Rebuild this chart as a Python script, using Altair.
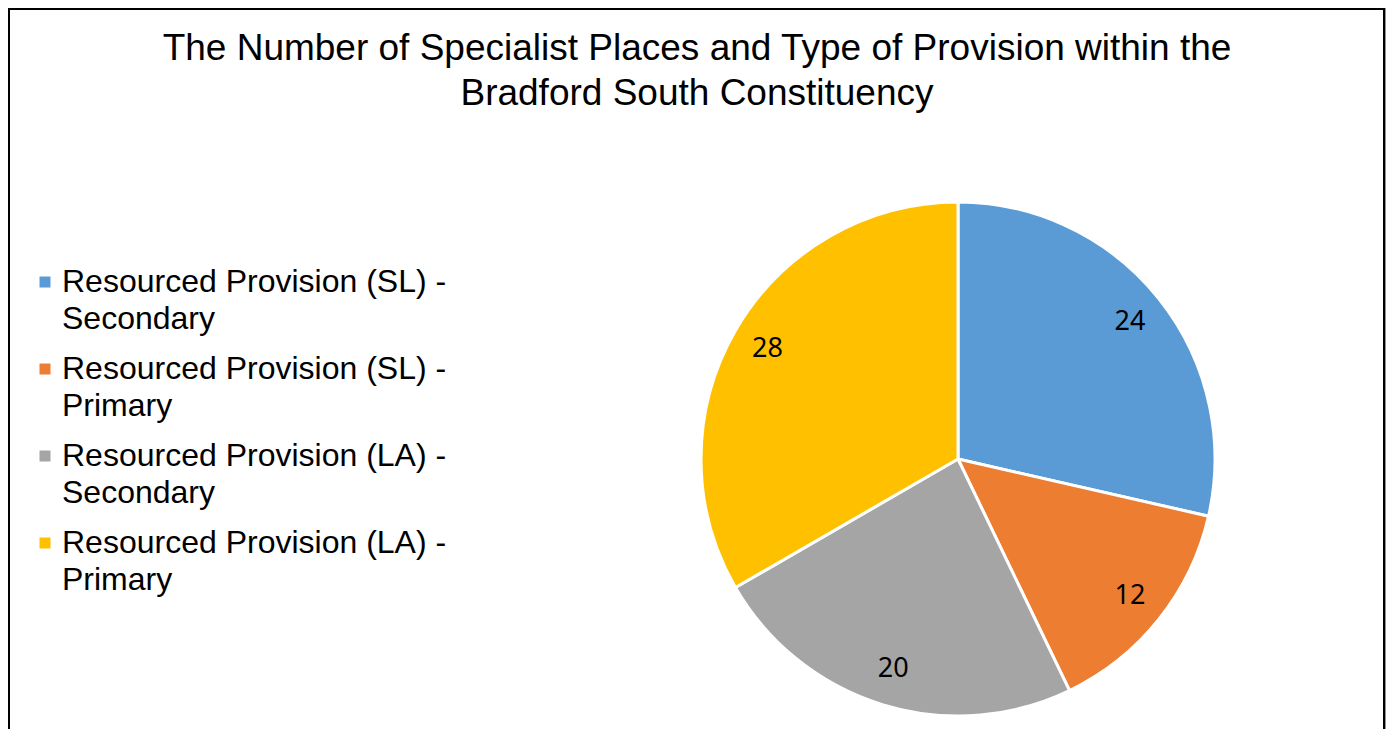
import altair as alt
import pandas as pd

categories = [
    "Resourced Provision (SL) - Secondary",
    "Resourced Provision (SL) - Primary",
    "Resourced Provision (LA) - Secondary",
    "Resourced Provision (LA) - Primary",
]
values = [24, 12, 20, 28]
colors = ["#5B9BD5", "#ED7D31", "#A5A5A5", "#FFC000"]
title_lines = [
    "The Number of Specialist Places and Type of Provision within the",
    "Bradford South Constituency",
]

df = pd.DataFrame({"category": categories, "value": values, "order": list(range(len(values)))})

W, H = 1378, 721
CX, CY, R = 950, 451, 257

base = alt.Chart(df).encode(
    theta=alt.Theta("value:Q", stack=True),
    order=alt.Order("order:Q", sort="ascending"),
)

pie = base.mark_arc(outerRadius=R, stroke="white", strokeWidth=3).encode(
    x=alt.value(CX),
    y=alt.value(CY),
    color=alt.Color(
        "category:N",
        scale=alt.Scale(domain=categories, range=colors),
        sort=categories,
        legend=alt.Legend(
            title=None,
            orient="none",
            legendX=21,
            legendY=243,
            symbolType="M-1,1.73H1V3.73H-1Z",
            symbolSize=121,
            symbolStrokeWidth=0,
            labelFont="Liberation Sans",
            labelFontSize=32,
            labelColor="#000000",
            labelLimit=0,
            labelOffset=1,
            labelBaseline="top",
            rowPadding=3,
            labelExpr="[split(datum.label, ' - ')[0] + ' -', split(datum.label, ' - ')[1]]",
        ),
    ),
)

labels = base.mark_text(radius=220, font="Noto Sans", fontSize=27, color="#000000").encode(
    x=alt.value(CX),
    y=alt.value(CY),
    text="value:Q",
)

frame_left = alt.Chart(df).mark_rule(color="#000000", strokeWidth=2).encode(
    x=alt.value(1), y=alt.value(0), y2=alt.value(H)
)
frame_top = alt.Chart(df).mark_rule(color="#000000", strokeWidth=2).encode(
    x=alt.value(0), x2=alt.value(W - 1), y=alt.value(1)
)
frame_right = alt.Chart(df).mark_rule(color="#000000", strokeWidth=2).encode(
    x=alt.value(W - 2), y=alt.value(0), y2=alt.value(H)
)
frame_green = alt.Chart(df).mark_rule(color="#00FF00", strokeWidth=1).encode(
    x=alt.value(W - 0.5), y=alt.value(0), y2=alt.value(H)
)

chart = (
    alt.layer(pie, labels, frame_left, frame_top, frame_right, frame_green)
    .properties(
        width=W,
        height=H,
        autosize=alt.AutoSizeParams(type="none"),
        padding=0,
        title=alt.TitleParams(
            text=title_lines,
            font="Liberation Sans",
            fontSize=37,
            fontWeight="normal",
            color="#000000",
            lineHeight=45,
            anchor="middle",
            baseline="top",
            offset=-106,
        ),
    )
    .configure_view(stroke=None)
    .configure(style={"guide-label": {"lineHeight": 37}})
)

chart.save("out.html", embed_options={"renderer": "svg", "actions": False})
